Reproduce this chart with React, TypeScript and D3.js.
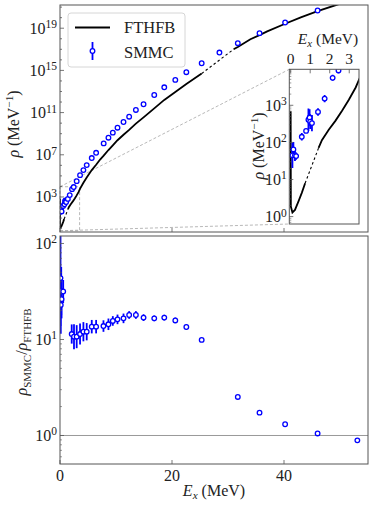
import { useEffect, useRef } from "react"
import * as d3 from "d3"

// FTHFB level density, E_x in MeV and log10(rho / MeV^-1)
const fthfbE = [0, 0.01, 0.09, 0.22, 0.4, 0.57, 0.74, 1.43, 1.6, 1.95, 2.29, 2.64, 2.98, 3.33, 3.59, 4.18, 4.77, 5.67, 6.45, 7.16, 7.8, 8.65, 9.43, 10.27, 11.34, 12.35, 13.55, 14.92, 16.83, 18.62, 20.59, 22.56, 25.3, 31.0, 31.75, 34.0, 35.63, 37.0, 40.2, 43, 46, 49, 55]
const fthfbLog = [2.84, 0.27, 0.11, 0.18, 0.41, 0.64, 0.9, 1.85, 2.06, 2.34, 2.58, 2.86, 3.15, 3.48, 3.8, 4.35, 4.85, 5.55, 6.06, 6.55, 6.92, 7.45, 7.9, 8.38, 8.9, 9.36, 9.95, 10.55, 11.4, 12.2, 12.95, 13.72, 14.7, 17.0, 17.22, 17.95, 18.35, 18.7, 19.42, 20.03, 20.62, 21.15, 22.15]
// stretches where the FTHFB curve is only sparsely sampled (look dashed)
const fthfbGaps = [[0.74, 1.43], [25.3, 31.0]]

// SMMC level density, error given as half-width in decades
const smmcE = [0.09, 0.14, 0.22, 0.28, 0.57, 0.79, 0.91, 0.97, 1.0, 1.09, 1.4, 1.74, 2.15, 2.45, 2.98, 3.58, 4.18, 4.77, 5.67, 6.45, 7.8, 8.65, 9.43, 10.27, 11.34, 12.35, 13.55, 14.92, 16.83, 18.62, 20.59, 22.56, 25.3, 28.47, 31.75, 35.63, 40.2, 46.0, 53.1]
const smmcLog = [1.65, 1.81, 1.65, 1.63, 2.15, 2.31, 2.61, 2.67, 2.56, 2.52, 2.82, 3.18, 3.74, 3.94, 4.5, 5.07, 5.55, 6.02, 6.69, 7.19, 8.08, 8.62, 9.1, 9.57, 10.11, 10.61, 11.25, 11.79, 12.67, 13.4, 14.1, 14.83, 15.68, 16.69, 17.58, 18.53, 19.54, 20.68, 22.1]
const smmcErr = [0.34, 0.2, 0.15, 0.1, 0.1, 0.06, 0.3, 0.22, 0.2, 0.22, 0.1, 0.1, 0.08, 0.08, 0.12, 0.11, 0.1, 0.09, 0.07, 0.07, 0.06, 0.06, 0.05, 0.05, 0.05, 0.04, 0.04, 0.035, 0.03, 0.03, 0.03, 0.025, 0.015, 0.01, 0.01, 0.01, 0.01, 0.01, 0.01]

// ratio rho_SMMC / rho_FTHFB
const ratioE = [0.09, 0.14, 0.22, 0.28, 0.57, 2.09, 2.5, 2.98, 3.58, 4.18, 4.77, 5.67, 6.45, 7.76, 8.65, 9.43, 10.27, 11.34, 12.35, 13.55, 14.92, 16.83, 18.62, 20.59, 22.56, 25.3, 31.75, 35.63, 40.2, 46.0, 53.1]
const ratioVal = [43.6, 22.9, 32, 26.3, 31.6, 11.4, 10.7, 10.7, 11.4, 12.05, 12.05, 13.6, 13.6, 13.8, 14.4, 15.6, 16.2, 16.6, 18.0, 18.0, 16.9, 16.6, 16.9, 15.8, 13.5, 9.9, 2.52, 1.73, 1.31, 1.05, 0.89]
const ratioErr = [0.5, 0.3, 0.25, 0.2, 0.12, 0.1, 0.13, 0.12, 0.11, 0.1, 0.09, 0.07, 0.07, 0.06, 0.06, 0.05, 0.05, 0.05, 0.04, 0.04, 0.035, 0.03, 0.03, 0.03, 0.025, 0.015, 0.01, 0.01, 0.01, 0.01, 0.01]

const xTicks = [0, 20, 40]
const mainExps = [3, 7, 11, 15, 19]
const ratioExps = [0, 1, 2]
const insetXTicks = [0, 1, 2, 3]
const insetExps = [0, 1, 2, 3]

const App = () => {
  const svgRef = useRef(null)

  useEffect(() => {
    const svg = d3.select(svgRef.current)
    svg.selectAll("*").remove()

    const font = "'Liberation Serif', 'Times New Roman', serif"
    const blue = "#0000ff"
    const axisColor = "#555"
    const textColor = "#222"

    const main = { left: 60, right: 368, top: 5, bottom: 232 }
    const lower = { left: 60, right: 368, top: 236, bottom: 464 }
    const ins = { left: 289.3, right: 359, top: 69.3, bottom: 224 }

    const x = d3.scaleLinear().domain([0, 55]).range([main.left, main.right])
    const yMain = d3.scaleLog().domain([10 ** -0.32, 10 ** 21.2]).range([main.bottom, main.top])
    const yRatio = d3.scaleLog().domain([10 ** -0.297, 10 ** 2.078]).range([lower.bottom, lower.top])
    const xIn = d3.scaleLinear().domain([-0.07, 3.5]).range([ins.left, ins.right])
    const yIn = d3.scaleLog().domain([10 ** -0.2, 10 ** 3.97]).range([ins.bottom, ins.top])

    const defs = svg.append("defs")
    const addClip = (id, b) =>
      defs.append("clipPath").attr("id", id).append("rect")
        .attr("x", b.left).attr("y", b.top)
        .attr("width", b.right - b.left).attr("height", b.bottom - b.top)
    addClip("clip-main", main)
    addClip("clip-lower", lower)
    addClip("clip-inset", ins)

    // split FTHFB curve into solid pieces and sparse (dashed) pieces
    const fthfb = fthfbE.map((e, i) => ({ e, v: 10 ** fthfbLog[i] }))
    const solidSegs = []
    const gapSegs = []
    let cur = [fthfb[0]]
    for (let i = 1; i < fthfb.length; i++) {
      const gap = fthfbGaps.some(([a, b]) => fthfb[i - 1].e === a && fthfb[i].e === b)
      if (gap) {
        solidSegs.push(cur)
        gapSegs.push([fthfb[i - 1], fthfb[i]])
        cur = [fthfb[i]]
      } else cur.push(fthfb[i])
    }
    solidSegs.push(cur)

    const drawCurve = (g, sx, sy) => {
      const line = d3.line().x((d) => sx(d.e)).y((d) => sy(d.v))
      solidSegs.forEach((s) =>
        g.append("path").attr("d", line(s)).attr("fill", "none")
          .attr("stroke", "black").attr("stroke-width", 1.8))
      gapSegs.forEach((s) =>
        g.append("path").attr("d", line(s)).attr("fill", "none")
          .attr("stroke", "black").attr("stroke-width", 1.1).attr("stroke-dasharray", "2.5,2.5"))
    }

    const drawPoints = (g, es, vals, errs, sx, sy) => {
      es.forEach((e, i) => {
        const v = vals[i]
        const err = errs[i]
        if (err > 0) {
          g.append("line")
            .attr("x1", sx(e)).attr("x2", sx(e))
            .attr("y1", sy(v * 10 ** -err)).attr("y2", sy(v * 10 ** err))
            .attr("stroke", blue).attr("stroke-width", 1.8)
        }
      })
      es.forEach((e, i) => {
        g.append("circle")
          .attr("cx", sx(e)).attr("cy", sy(vals[i])).attr("r", 2.3)
          .attr("fill", "white").attr("stroke", blue).attr("stroke-width", 1.3)
      })
    }

    const powLabel = (g, px, py, exp, anchor, size) => {
      const t = g.append("text").attr("x", px).attr("y", py)
        .attr("text-anchor", anchor).attr("font-family", font)
        .attr("font-size", size).attr("fill", textColor)
      t.append("tspan").text("10")
      t.append("tspan").attr("dy", -5.5).attr("font-size", size * 0.72).text(exp)
    }

    const rhoLabel = (g, size) => {
      const t = g.append("text").attr("text-anchor", "middle")
        .attr("font-family", font).attr("font-size", size).attr("fill", textColor)
      t.append("tspan").attr("font-style", "italic").text("ρ")
      t.append("tspan").text(" (MeV")
      t.append("tspan").attr("dy", -6).attr("font-size", size * 0.7).text("−1")
      t.append("tspan").attr("dy", 6).text(")")
    }

    const exLabel = (g, px, py, size) => {
      const t = g.append("text").attr("x", px).attr("y", py).attr("text-anchor", "middle")
        .attr("font-family", font).attr("font-size", size).attr("fill", textColor)
      t.append("tspan").attr("font-style", "italic").text("E")
      t.append("tspan").attr("dy", 3).attr("font-style", "italic").attr("font-size", size * 0.7).text("x")
      t.append("tspan").attr("dy", -3).text(" (MeV)")
    }

    // ---------- upper panel ----------
    const gMain = svg.append("g")

    // inset marker box and connectors
    const bx0 = x(0), bx1 = x(3.5)
    const by0 = yMain(10 ** 3.97), by1 = yMain(10 ** -0.2)
    const markStyle = (sel) => sel.attr("fill", "none").attr("stroke", "#b0b0b0")
      .attr("stroke-width", 0.9).attr("stroke-dasharray", "3,2")
    markStyle(gMain.append("rect").attr("x", bx0).attr("y", by0)
      .attr("width", bx1 - bx0).attr("height", by1 - by0))
    markStyle(gMain.append("line").attr("x1", bx0).attr("y1", by0).attr("x2", ins.left).attr("y2", ins.top))
    markStyle(gMain.append("line").attr("x1", bx0).attr("y1", by1).attr("x2", ins.left).attr("y2", ins.bottom))

    const gMainData = gMain.append("g").attr("clip-path", "url(#clip-main)")
    drawCurve(gMainData, x, yMain)
    drawPoints(gMainData, smmcE, smmcLog.map((l) => 10 ** l), smmcErr, x, yMain)

    // ticks
    d3.range(0, 22).forEach((k) => {
      const major = mainExps.includes(k)
      gMain.append("line").attr("x1", main.left).attr("x2", main.left + (major ? 4 : 2))
        .attr("y1", yMain(10 ** k)).attr("y2", yMain(10 ** k))
        .attr("stroke", axisColor).attr("stroke-width", 0.8)
    })
    mainExps.forEach((k) => powLabel(gMain, 57, yMain(10 ** k) + 5.5, k, "end", 16))
    xTicks.forEach((t) =>
      gMain.append("line").attr("x1", x(t)).attr("x2", x(t))
        .attr("y1", main.bottom).attr("y2", main.bottom - 4)
        .attr("stroke", axisColor).attr("stroke-width", 0.8))

    gMain.append("rect").attr("x", main.left).attr("y", main.top)
      .attr("width", main.right - main.left).attr("height", main.bottom - main.top)
      .attr("fill", "none").attr("stroke", axisColor).attr("stroke-width", 1)

    rhoLabel(gMain.append("g").attr("transform", "translate(19,124) rotate(-90)"), 16)

    // legend
    const leg = gMain.append("g")
    leg.append("rect").attr("x", 68).attr("y", 13).attr("width", 117).attr("height", 54)
      .attr("rx", 3).attr("fill", "white").attr("fill-opacity", 0.8)
      .attr("stroke", "#cccccc").attr("stroke-width", 0.8)
    leg.append("line").attr("x1", 75).attr("x2", 110).attr("y1", 27.5).attr("y2", 27.5)
      .attr("stroke", "black").attr("stroke-width", 1.8)
    leg.append("line").attr("x1", 92.5).attr("x2", 92.5).attr("y1", 42).attr("y2", 60)
      .attr("stroke", blue).attr("stroke-width", 1.8)
    leg.append("circle").attr("cx", 92.5).attr("cy", 51).attr("r", 2.3)
      .attr("fill", "white").attr("stroke", blue).attr("stroke-width", 1.3)
    ;[["FTHFB", 33.3], ["SMMC", 57.5]].forEach(([s, yy]) =>
      leg.append("text").attr("x", 124).attr("y", yy).attr("font-family", font)
        .attr("font-size", 16.5).attr("fill", textColor).text(s))

    // ---------- inset ----------
    const gIn = svg.append("g")
    gIn.append("rect").attr("x", ins.left).attr("y", ins.top)
      .attr("width", ins.right - ins.left).attr("height", ins.bottom - ins.top).attr("fill", "white")
    const gInData = gIn.append("g").attr("clip-path", "url(#clip-inset)")
    drawCurve(gInData, xIn, yIn)
    drawPoints(gInData, smmcE, smmcLog.map((l) => 10 ** l), smmcErr, xIn, yIn)

    insetExps.forEach((k) => {
      gIn.append("line").attr("x1", ins.left).attr("x2", ins.left + 4)
        .attr("y1", yIn(10 ** k)).attr("y2", yIn(10 ** k))
        .attr("stroke", axisColor).attr("stroke-width", 0.8)
      powLabel(gIn, ins.left - 2.5, yIn(10 ** k) + 5.5, k, "end", 16)
    })
    ;[-1, 0, 1, 2, 3].forEach((k) =>
      d3.range(2, 10).forEach((m) => {
        const v = m * 10 ** k
        if (v < yIn.domain()[0] || v > yIn.domain()[1]) return
        gIn.append("line").attr("x1", ins.left).attr("x2", ins.left + 2)
          .attr("y1", yIn(v)).attr("y2", yIn(v))
          .attr("stroke", axisColor).attr("stroke-width", 0.6)
      }))
    insetXTicks.forEach((t) => {
      gIn.append("line").attr("x1", xIn(t)).attr("x2", xIn(t))
        .attr("y1", ins.top).attr("y2", ins.top + 4)
        .attr("stroke", axisColor).attr("stroke-width", 0.8)
      gIn.append("text").attr("x", xIn(t)).attr("y", 64).attr("text-anchor", "middle")
        .attr("font-family", font).attr("font-size", 15.5).attr("fill", textColor).text(t)
    })
    gIn.append("rect").attr("x", ins.left).attr("y", ins.top)
      .attr("width", ins.right - ins.left).attr("height", ins.bottom - ins.top)
      .attr("fill", "none").attr("stroke", axisColor).attr("stroke-width", 1)
    exLabel(gIn, 328, 44, 15.5)
    rhoLabel(gIn.append("g").attr("transform", "translate(264,146) rotate(-90)"), 16)

    // ---------- lower panel ----------
    const gLow = svg.append("g")
    gLow.append("line").attr("x1", lower.left).attr("x2", lower.right)
      .attr("y1", yRatio(1)).attr("y2", yRatio(1))
      .attr("stroke", "#999").attr("stroke-width", 1)
    const gLowData = gLow.append("g").attr("clip-path", "url(#clip-lower)")
    drawPoints(gLowData, ratioE, ratioVal, ratioErr, x, yRatio)

    ratioExps.forEach((k) => {
      gLow.append("line").attr("x1", lower.left).attr("x2", lower.left + 4)
        .attr("y1", yRatio(10 ** k)).attr("y2", yRatio(10 ** k))
        .attr("stroke", axisColor).attr("stroke-width", 0.8)
      powLabel(gLow, 57, yRatio(10 ** k) + 5.5, k, "end", 16)
    })
    ;[-1, 0, 1].forEach((k) =>
      d3.range(2, 10).forEach((m) => {
        const v = m * 10 ** k
        if (v < yRatio.domain()[0] || v > yRatio.domain()[1]) return
        gLow.append("line").attr("x1", lower.left).attr("x2", lower.left + 2)
          .attr("y1", yRatio(v)).attr("y2", yRatio(v))
          .attr("stroke", axisColor).attr("stroke-width", 0.6)
      }))
    xTicks.forEach((t) => {
      gLow.append("line").attr("x1", x(t)).attr("x2", x(t))
        .attr("y1", lower.bottom).attr("y2", lower.bottom - 4)
        .attr("stroke", axisColor).attr("stroke-width", 0.8)
      gLow.append("text").attr("x", x(t)).attr("y", 480.5).attr("text-anchor", "middle")
        .attr("font-family", font).attr("font-size", 16).attr("fill", textColor).text(t)
    })
    gLow.append("rect").attr("x", lower.left).attr("y", lower.top)
      .attr("width", lower.right - lower.left).attr("height", lower.bottom - lower.top)
      .attr("fill", "none").attr("stroke", axisColor).attr("stroke-width", 1)

    exLabel(gLow, 214, 496, 16)

    // ratio y label
    const rl = gLow.append("g").attr("transform", "translate(27,352) rotate(-90)")
      .append("text").attr("text-anchor", "middle").attr("font-family", font)
      .attr("font-size", 16).attr("fill", textColor)
    rl.append("tspan").attr("font-style", "italic").text("ρ")
    rl.append("tspan").attr("dy", 3.5).attr("font-size", 11).text("SMMC")
    rl.append("tspan").attr("dy", -3.5).text("/")
    rl.append("tspan").attr("font-style", "italic").text("ρ")
    rl.append("tspan").attr("dy", 3.5).attr("font-size", 11).text("FTHFB")
  }, [])

  return (
    <svg
      ref={svgRef}
      width={374}
      height={510}
      style={{ position: "absolute", left: 0, top: 0, background: "white" }}
    ></svg>
  )
}

export default App
